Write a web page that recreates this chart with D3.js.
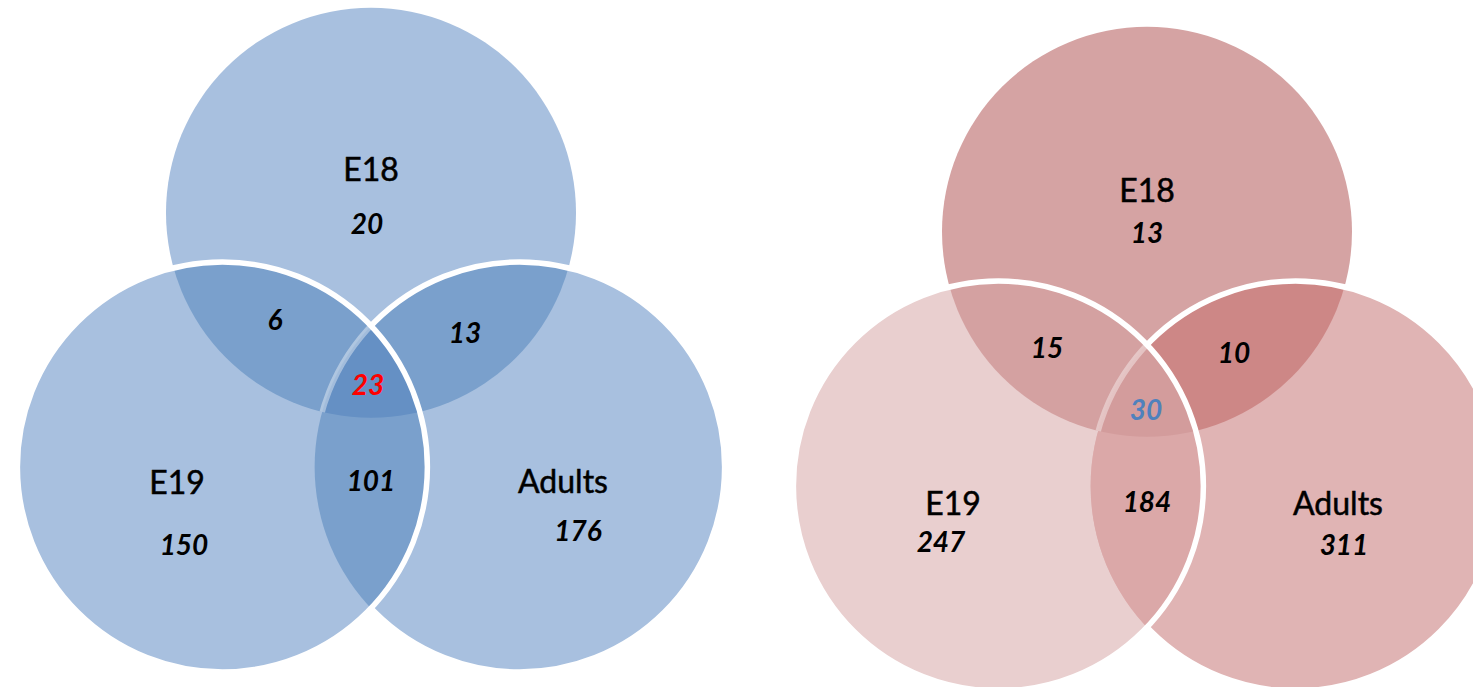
<!DOCTYPE html>
<html>
<head>
<meta charset="utf-8">
<script src="https://cdn.jsdelivr.net/npm/d3@7"></script>
<style>
  body { margin: 0; background: #fff; }
  .name { font-family: Lato, "Open Sans", sans-serif; font-size: 32px; fill: #000; stroke: #000; stroke-width: 0.5px; }
  .count { font-family: Lato, "Open Sans", sans-serif; font-size: 28px; font-weight: bold; font-style: italic; fill: #000; }
</style>
</head>
<body>
<svg id="venn"></svg>
<script>
// data
var setNames = ["E18", "E19", "Adults"];
var regionKeys = ["E18", "E19", "Adults", "E18&E19", "E18&Adults", "E19&Adults", "E18&E19&Adults"];
var blueCounts = [20, 150, 176, 6, 13, 101, 23];
var redCounts = [13, 247, 311, 15, 10, 184, 30];

var svgWidth = 1473;
var svgHeight = 687;

var svg = d3.select("#venn")
    .attr("width", svgWidth)
    .attr("height", svgHeight);

var defs = svg.append("defs");

// unit layout of the three circles (radius 1)
var unitCenters = { "E18": [0, -1.24], "E19": [-0.725, 0], "Adults": [0.725, 0] };
var scale = d3.scaleLinear().domain([0, 1]).range([0, 205]);

// per-chart settings
var charts = [
    {
        id: "blue", origin: [371, 467], counts: blueCounts,
        single: { "E18": "#a8c0df", "E19": "#a8c0df", "Adults": "#a8c0df" },
        pair: { "E18&E19": "#7aa0cc", "E18&Adults": "#7aa0cc", "E19&Adults": "#7aa0cc" },
        triple: "#6590c4", centreColor: "#ff0000",
        nameOffsets: [[0, -286], [-194, 27], [192, 26]],
        countOffsets: [[-4, -233], [-187, 88], [207, 74], [-96, -137], [94, -124], [0, 24], [-3, -72]]
    },
    {
        id: "red", origin: [1147, 486], counts: redCounts,
        single: { "E18": "#d5a3a3", "E19": "#e9cfcf", "Adults": "#e0b4b4" },
        pair: { "E18&E19": "#d4a1a1", "E18&Adults": "#cd8786", "E19&Adults": "#dba8a8" },
        triple: "#d39c9c", centreColor: "#4f81bd",
        nameOffsets: [[0, -284], [-194, 29], [191, 29]],
        countOffsets: [[0, -243], [-206, 66], [197, 69], [-100, -128], [87, -123], [0, 26], [-1, -66]]
    }
];

charts.forEach(function(chart) {
    var cx = function(name) { return chart.origin[0] + scale(unitCenters[name][0]); };
    var cy = function(name) { return chart.origin[1] + scale(unitCenters[name][1]); };
    var r = scale(1);

    // clip paths for each circle
    setNames.forEach(function(name) {
        defs.append("clipPath")
            .attr("id", chart.id + "-clip-" + name)
            .append("circle")
            .attr("cx", cx(name)).attr("cy", cy(name)).attr("r", r);
    });

    // mask: everything except E19
    var mask = defs.append("mask").attr("id", chart.id + "-notE19");
    mask.append("rect").attr("width", svgWidth).attr("height", svgHeight).attr("fill", "#fff");
    mask.append("circle").attr("cx", cx("E19")).attr("cy", cy("E19")).attr("r", r).attr("fill", "#000");

    var g = svg.append("g");

    // single circles
    g.selectAll(".single")
        .data(setNames)
        .enter()
        .append("circle")
        .attr("cx", cx).attr("cy", cy).attr("r", r)
        .attr("fill", function(d) { return chart.single[d]; });

    // pairwise overlaps
    regionKeys.slice(3, 6).forEach(function(key) {
        var parts = key.split("&");
        g.append("circle")
            .attr("cx", cx(parts[0])).attr("cy", cy(parts[0])).attr("r", r)
            .attr("clip-path", "url(#" + chart.id + "-clip-" + parts[1] + ")")
            .attr("fill", chart.pair[key]);
    });

    // triple overlap
    g.append("g")
        .attr("clip-path", "url(#" + chart.id + "-clip-Adults)")
        .append("circle")
        .attr("cx", cx("E18")).attr("cy", cy("E18")).attr("r", r)
        .attr("clip-path", "url(#" + chart.id + "-clip-E19)")
        .attr("fill", chart.triple);

    // outlines: faint Adults edge showing through E19 inside the centre
    g.append("g")
        .attr("clip-path", "url(#" + chart.id + "-clip-E18)")
        .append("circle")
        .attr("cx", cx("Adults")).attr("cy", cy("Adults")).attr("r", r)
        .attr("fill", "none").attr("stroke", "#fff").attr("stroke-opacity", 0.4).attr("stroke-width", 5.5)
        .attr("clip-path", "url(#" + chart.id + "-clip-E19)");

    g.append("circle")
        .attr("cx", cx("Adults")).attr("cy", cy("Adults")).attr("r", r)
        .attr("fill", "none").attr("stroke", "#fff").attr("stroke-width", 5.5)
        .attr("mask", "url(#" + chart.id + "-notE19)");

    g.append("circle")
        .attr("cx", cx("E19")).attr("cy", cy("E19")).attr("r", r)
        .attr("fill", "none").attr("stroke", "#fff").attr("stroke-width", 5.5);

    // set names
    g.selectAll(".name")
        .data(setNames)
        .enter()
        .append("text")
        .attr("class", "name")
        .attr("x", function(d, i) { return chart.origin[0] + chart.nameOffsets[i][0]; })
        .attr("y", function(d, i) { return chart.origin[1] + chart.nameOffsets[i][1]; })
        .attr("text-anchor", "middle")
        .text(function(d) { return d; });

    // region counts
    g.selectAll(".count")
        .data(chart.counts)
        .enter()
        .append("text")
        .attr("class", "count")
        .attr("x", function(d, i) { return chart.origin[0] + chart.countOffsets[i][0]; })
        .attr("y", function(d, i) { return chart.origin[1] + chart.countOffsets[i][1]; })
        .attr("text-anchor", "middle")
        .style("fill", function(d, i) { return i === 6 ? chart.centreColor : null; })
        .text(function(d) { return d; });
});
</script>
</body>
</html>
